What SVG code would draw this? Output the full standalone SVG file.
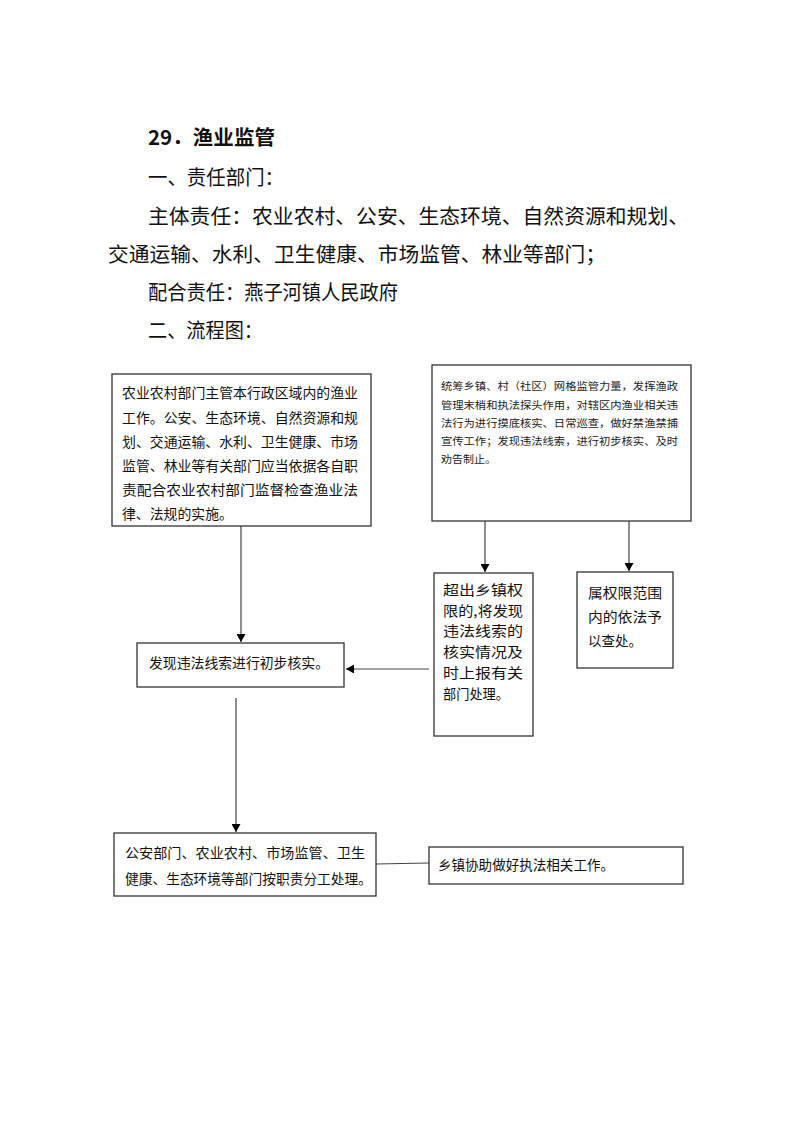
<svg xmlns="http://www.w3.org/2000/svg" width="793" height="1122" viewBox="0 0 793 1122">
<defs>
<style>
.h{font-family:"Noto Sans CJK SC","Noto Sans",sans-serif;font-size:20.5px;fill:#111}
.hb{font-weight:bold}
.t{font-family:"Noto Sans CJK SC","Noto Sans",sans-serif;font-size:13.5px;fill:#111}
.s{font-family:"Noto Sans CJK SC","Noto Sans",sans-serif;font-size:10px;fill:#222}
.box{fill:#fff;stroke:#333;stroke-width:1.3}
.ln{stroke:#444;stroke-width:1.2;fill:none}
</style>
<marker id="ah" markerWidth="8" markerHeight="9" refX="8" refY="4.5" orient="auto" markerUnits="userSpaceOnUse">
<path d="M0,0 L8,4.5 L0,9 Z" fill="#000"/>
</marker>
</defs>
<rect width="793" height="1122" fill="#fff"/>
<g id="header">
<text class="h hb" x="148" y="145" textLength="127" lengthAdjust="spacingAndGlyphs">29．渔业监管</text>
<text class="h" x="148" y="185" textLength="136" lengthAdjust="spacingAndGlyphs">一、责任部门：</text>
<text class="h" x="148" y="224" textLength="541" lengthAdjust="spacingAndGlyphs">主体责任：农业农村、公安、生态环境、自然资源和规划、</text>
<text class="h" x="108" y="262" textLength="498" lengthAdjust="spacingAndGlyphs">交通运输、水利、卫生健康、市场监管、林业等部门；</text>
<text class="h" x="148" y="300" textLength="250" lengthAdjust="spacingAndGlyphs">配合责任：燕子河镇人民政府</text>
<text class="h" x="148" y="338" textLength="115" lengthAdjust="spacingAndGlyphs">二、流程图：</text>
</g>
<g id="connectors">
<line class="ln" x1="241" y1="526" x2="241" y2="642" marker-end="url(#ah)"/>
<line class="ln" x1="485" y1="521" x2="485" y2="572" marker-end="url(#ah)"/>
<line class="ln" x1="629" y1="521" x2="629" y2="571" marker-end="url(#ah)"/>
<line class="ln" x1="429" y1="669" x2="346" y2="669" marker-end="url(#ah)"/>
<line class="ln" x1="236" y1="698" x2="236" y2="832" marker-end="url(#ah)"/>
<line class="ln" x1="376" y1="864" x2="429" y2="863"/>
</g>
<g id="node1">
<rect class="box" x="112" y="374" width="259" height="152"/>
<text class="t" x="122" y="398" textLength="236" lengthAdjust="spacingAndGlyphs">农业农村部门主管本行政区域内的渔业</text>
<text class="t" x="122" y="423" textLength="236" lengthAdjust="spacingAndGlyphs">工作。公安、生态环境、自然资源和规</text>
<text class="t" x="122" y="447" textLength="236" lengthAdjust="spacingAndGlyphs">划、交通运输、水利、卫生健康、市场</text>
<text class="t" x="122" y="471" textLength="236" lengthAdjust="spacingAndGlyphs">监管、林业等有关部门应当依据各自职</text>
<text class="t" x="122" y="495" textLength="236" lengthAdjust="spacingAndGlyphs">责配合农业农村部门监督检查渔业法</text>
<text class="t" x="122" y="519" textLength="111" lengthAdjust="spacingAndGlyphs">律、法规的实施。</text>
</g>
<g id="node2">
<rect class="box" x="432" y="365" width="259" height="156"/>
<text class="s" x="441" y="390" textLength="237" lengthAdjust="spacingAndGlyphs">统筹乡镇、村（社区）网格监管力量，发挥渔政</text>
<text class="s" x="441" y="409" textLength="237" lengthAdjust="spacingAndGlyphs">管理末梢和执法探头作用，对辖区内渔业相关违</text>
<text class="s" x="441" y="427" textLength="237" lengthAdjust="spacingAndGlyphs">法行为进行摸底核实、日常巡查，做好禁渔禁捕</text>
<text class="s" x="441" y="445" textLength="237" lengthAdjust="spacingAndGlyphs">宣传工作；发现违法线索，进行初步核实、及时</text>
<text class="s" x="441" y="463" textLength="55" lengthAdjust="spacingAndGlyphs">劝告制止。</text>
</g>
<g id="node3">
<rect class="box" x="434" y="573" width="99" height="163"/>
<text class="t" x="443" y="595" textLength="80" lengthAdjust="spacingAndGlyphs">超出乡镇权</text>
<text class="t" x="443" y="616" textLength="80" lengthAdjust="spacingAndGlyphs">限的,将发现</text>
<text class="t" x="443" y="636" textLength="80" lengthAdjust="spacingAndGlyphs">违法线索的</text>
<text class="t" x="443" y="657" textLength="80" lengthAdjust="spacingAndGlyphs">核实情况及</text>
<text class="t" x="443" y="678" textLength="80" lengthAdjust="spacingAndGlyphs">时上报有关</text>
<text class="t" x="443" y="699" textLength="66" lengthAdjust="spacingAndGlyphs">部门处理。</text>
</g>
<g id="node4">
<rect class="box" x="577" y="572" width="96" height="96"/>
<text class="t" x="588" y="598" textLength="74" lengthAdjust="spacingAndGlyphs">属权限范围</text>
<text class="t" x="588" y="622" textLength="74" lengthAdjust="spacingAndGlyphs">内的依法予</text>
<text class="t" x="588" y="646" textLength="54" lengthAdjust="spacingAndGlyphs">以查处。</text>
</g>
<g id="node5">
<rect class="box" x="137" y="643" width="207" height="44"/>
<text class="t" x="149" y="668" textLength="180" lengthAdjust="spacingAndGlyphs">发现违法线索进行初步核实。</text>
</g>
<g id="node6">
<rect class="box" x="114" y="833" width="262" height="63"/>
<text class="t" x="125" y="858" textLength="240" lengthAdjust="spacingAndGlyphs">公安部门、农业农村、市场监管、卫生</text>
<text class="t" x="125" y="884" textLength="247" lengthAdjust="spacingAndGlyphs">健康、生态环境等部门按职责分工处理。</text>
</g>
<g id="node7">
<rect class="box" x="429" y="847" width="254" height="37"/>
<text class="t" x="438" y="870" textLength="176" lengthAdjust="spacingAndGlyphs">乡镇协助做好执法相关工作。</text>
</g>
</svg>
